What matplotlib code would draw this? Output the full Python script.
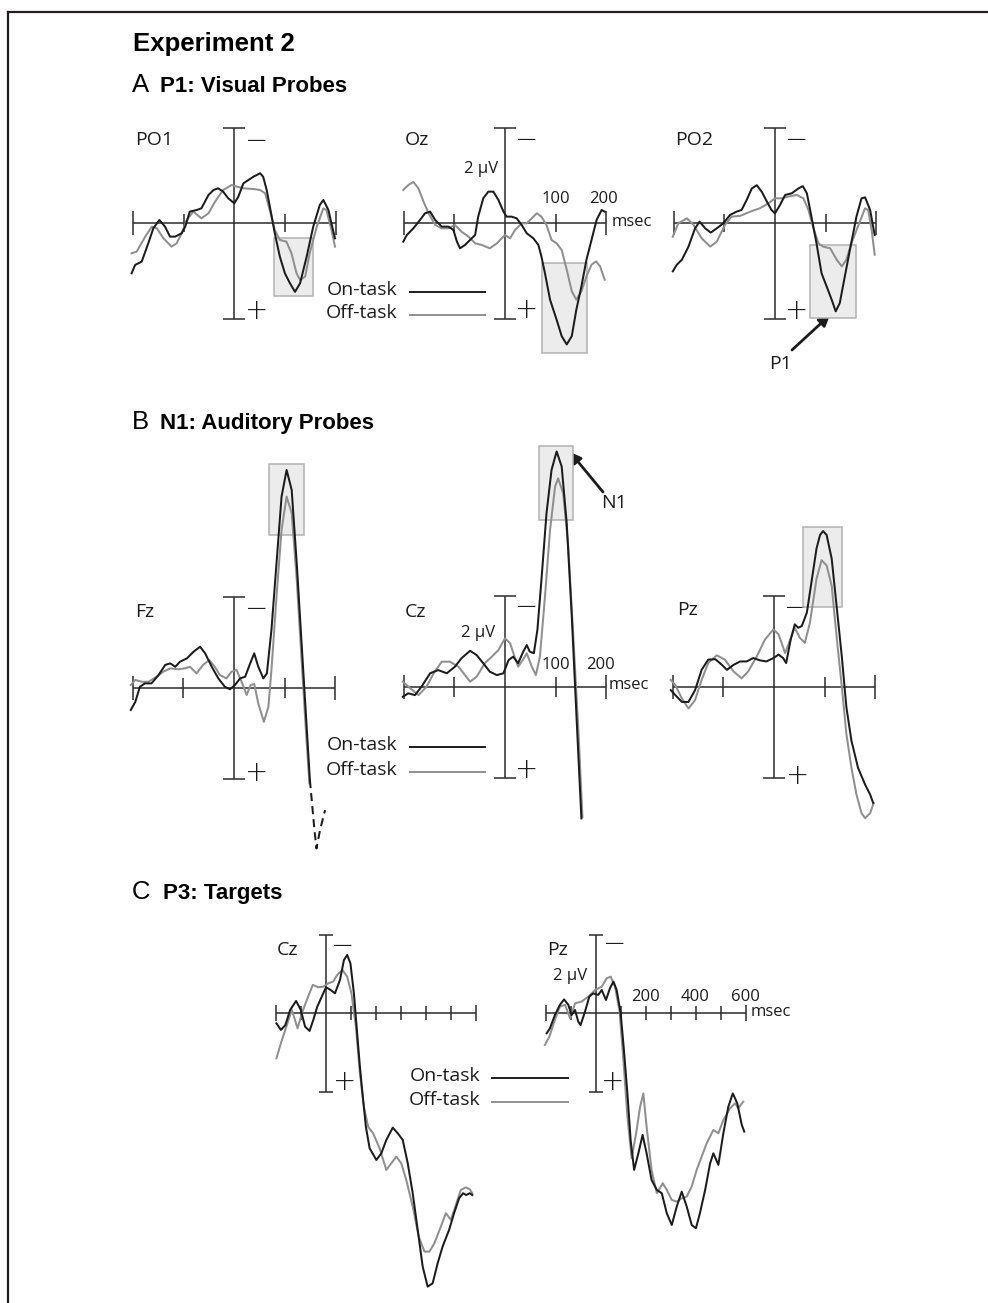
import matplotlib.pyplot as plt
import numpy as np
from matplotlib.patches import Rectangle

W, H = 988, 1303
INK = "#1c1c1c"
GREY = "#8f8f8f"
AXC = "#2b2b2b"

# ERP traces: (ms, microvolts), negative plotted upward
A_PO1_ON = [(-203, 2.10), (-196, 1.75), (-183, 1.61), (-170, 0.84), (-160, 0.21), (-148, -0.14), (-137, 0.14),
            (-127, 0.56), (-117, 0.56), (-104, 0.42), (-97, 0.14), (-88, -0.49), (-74, -0.56), (-65, -0.63),
            (-51, -1.19), (-41, -1.40), (-32, -1.47), (-22, -1.33), (-12, -1.05), (0, -0.84), (8, -1.12),
            (18, -1.68), (28, -1.82), (38, -1.96), (51, -2.10), (57, -1.96), (64, -1.40), (74, -0.28), (80, 0.42),
            (90, 1.40), (100, 2.10), (110, 2.52), (120, 2.88), (130, 2.52), (143, 1.40), (156, 0.14), (169, -0.77),
            (176, -0.98), (186, -0.56), (195, 0.28), (199, 0.63)]
A_PO1_OFF = [(-203, 1.26), (-193, 1.19), (-176, 0.56), (-163, 0.14), (-153, 0.21), (-140, 0.63), (-124, 0.98),
             (-114, 0.84), (-104, 0.42), (-94, -0.14), (-81, -0.49), (-65, -0.21), (-51, -0.42), (-38, -0.91),
             (-22, -1.40), (-5, -1.61), (5, -1.54), (18, -1.47), (38, -1.44), (51, -1.40), (61, -1.26), (70, -0.56),
             (80, 0.28), (90, 0.70), (103, 0.77), (113, 1.26), (123, 2.10), (130, 2.38), (140, 2.24), (149, 1.26),
             (163, 0.14), (176, -0.63), (182, -0.56), (192, 0.28), (199, 0.98)]
A_OZ_ON = [(-201, 0.77), (-194, 0.49), (-181, 0.21), (-168, -0.14), (-158, -0.42), (-148, -0.49), (-138, -0.14),
           (-125, 0.14), (-112, 0.14), (-102, 0.28), (-95, 0.77), (-89, 1.05), (-79, 0.91), (-69, 0.70), (-59, 0.49),
           (-53, -0.28), (-43, -1.05), (-33, -1.33), (-23, -1.33), (-13, -0.98), (-3, -0.49), (3, -0.28),
           (13, -0.28), (23, -0.21), (33, 0.07), (43, 0.42), (56, 0.63), (66, 0.91), (72, 1.40), (79, 2.10),
           (89, 3.21), (102, 4.05), (112, 4.74), (122, 5.09), (132, 4.74), (141, 3.63), (151, 2.65), (161, 1.53),
           (171, 0.70), (181, -0.14), (191, -0.56), (197, -0.49)]
A_OZ_OFF = [(-201, -1.40), (-191, -1.61), (-181, -1.74), (-171, -1.46), (-161, -0.91), (-151, -0.42), (-138, 0.07),
            (-125, 0.21), (-112, 0.21), (-99, 0.07), (-86, 0.35), (-72, 0.56), (-59, 0.84), (-46, 0.91), (-30, 1.05),
            (-16, 0.84), (0, 0.49), (10, 0.63), (20, 0.28), (33, 0.0), (43, 0.0), (53, -0.21), (63, -0.42),
            (72, -0.28), (82, 0.07), (92, 0.70), (102, 0.84), (112, 1.12), (122, 1.95), (132, 2.86), (141, 3.21),
            (151, 2.86), (161, 2.23), (171, 1.74), (180, 1.60), (188, 1.81), (197, 2.37)]
A_PO2_ON = [(-202, 2.02), (-194, 1.74), (-184, 1.53), (-171, 0.98), (-158, 0.21), (-149, -0.07), (-138, 0.21),
            (-127, 0.39), (-115, 0.21), (-102, 0.0), (-89, -0.35), (-76, -0.49), (-66, -0.56), (-56, -0.98),
            (-46, -1.46), (-36, -1.60), (-26, -1.32), (-16, -0.91), (-7, -0.56), (0, -0.42), (10, -0.77),
            (20, -1.19), (33, -1.26), (46, -1.46), (55, -1.56), (63, -1.26), (72, -0.28), (82, 0.84), (92, 2.10),
            (102, 2.65), (112, 3.21), (120, 3.70), (128, 3.35), (138, 2.23), (148, 1.12), (161, -0.28),
            (171, -1.05), (178, -1.09), (188, -0.56), (197, 0.49)]
A_PO2_OFF = [(-202, 0.56), (-191, 0.0), (-174, -0.21), (-161, 0.07), (-145, 0.63), (-128, 0.98), (-115, 0.77),
             (-99, 0.07), (-86, -0.28), (-69, -0.31), (-49, -0.49), (-30, -0.63), (-13, -0.84), (0, -1.05),
             (13, -1.05), (30, -1.14), (43, -1.19), (56, -1.05), (66, -0.56), (76, 0.21), (86, 0.84), (95, 0.98),
             (109, 1.05), (122, 1.53), (132, 1.81), (141, 1.53), (151, 0.84), (165, 0.07), (178, -0.63),
             (184, -0.56), (191, 0.28), (197, 1.32)]

B_FZ_ON = [(-204, 0.98), (-195, 0.62), (-186, -0.04), (-176, -0.19), (-163, -0.19), (-149, -0.56), (-136, -1.00),
           (-126, -1.07), (-116, -0.92), (-107, -1.14), (-93, -1.29), (-80, -1.58), (-67, -1.80), (-57, -1.51),
           (-44, -0.92), (-31, -0.41), (-18, -0.04), (-8, 0.07), (2, -0.12), (12, -0.41), (22, -0.48), (32, -1.07),
           (40, -1.51), (48, -0.92), (58, -0.41), (65, -0.63), (74, -2.54), (84, -5.47), (94, -8.40), (104, -9.57),
           (114, -8.69), (124, -5.47), (134, -1.80), (142, 1.13), (150, 4.06), (153, 4.79), (159, 6.26),
           (163, 7.07), (170, 6.26), (180, 5.38)]
B_FZ_OFF = [(-204, -0.12), (-195, -0.34), (-182, -0.26), (-169, -0.26), (-153, -0.48), (-140, -0.70), (-126, -0.85),
            (-110, -0.81), (-97, -0.85), (-87, -0.92), (-74, -0.63), (-61, -1.00), (-49, -1.22), (-38, -0.92),
            (-28, -0.56), (-15, -0.41), (-5, -0.70), (5, -0.78), (15, -0.26), (25, 0.32), (33, -0.12), (40, -0.16),
            (48, 0.69), (59, 1.50), (68, 0.84), (74, -0.78), (84, -4.00), (94, -6.94), (104, -8.40), (114, -7.67),
            (124, -4.74), (134, -1.07), (142, 1.86), (149, 4.21)]
B_CZ_ON = [(-202, 0.44), (-191, 0.29), (-178, 0.37), (-165, 0.0), (-148, -0.59), (-132, -0.73), (-115, -0.59),
           (-99, -0.88), (-86, -1.25), (-69, -1.58), (-56, -1.39), (-43, -1.03), (-30, -0.66), (-16, -0.51),
           (-3, -0.59), (7, -1.17), (16, -1.32), (26, -1.03), (36, -1.54), (43, -1.83), (49, -1.54), (57, -1.47),
           (64, -2.49), (72, -4.69), (82, -7.62), (92, -9.53), (102, -10.34), (112, -9.68), (122, -7.18),
           (132, -3.08), (141, 1.17), (151, 5.79)]
B_CZ_OFF = [(-202, -0.22), (-191, 0.0), (-171, 0.37), (-155, 0.0), (-141, -0.59), (-125, -1.10), (-109, -1.10),
            (-92, -0.88), (-79, -0.51), (-69, -0.22), (-56, -0.44), (-40, -1.03), (-26, -1.32), (-13, -1.61),
            (0, -2.13), (10, -1.91), (20, -1.25), (26, -0.88), (35, -1.17), (43, -1.47), (53, -0.88), (61, -0.51),
            (69, -1.32), (79, -3.96), (89, -6.89), (99, -8.80), (105, -9.16), (115, -8.50), (125, -6.16),
            (135, -2.20), (145, 1.91), (153, 5.72)]
B_PZ_ON = [(-204, 0.15), (-195, 0.37), (-182, 0.67), (-169, 0.67), (-156, 0.15), (-143, -0.74), (-130, -1.19),
           (-116, -1.21), (-103, -0.96), (-93, -0.74), (-80, -0.96), (-67, -1.11), (-54, -1.11), (-41, -1.26),
           (-28, -1.16), (-15, -1.11), (-1, -1.26), (9, -1.41), (18, -1.26), (24, -1.04), (33, -2.07), (41, -2.74),
           (48, -2.59), (55, -2.67), (65, -3.26), (74, -4.59), (84, -6.07), (91, -6.67), (97, -6.84), (104, -6.67),
           (114, -5.63), (123, -3.70), (134, -1.33), (143, 0.89), (153, 2.37), (166, 3.56), (180, 4.30),
           (190, 4.74), (196, 5.11)]
B_PZ_OFF = [(-204, -0.30), (-195, -0.07), (-182, 0.52), (-169, 0.96), (-156, 0.59), (-143, -0.30), (-130, -1.04),
            (-113, -1.38), (-97, -1.19), (-80, -0.67), (-64, -0.37), (-51, -0.67), (-34, -1.33), (-18, -2.07),
            (-1, -2.52), (9, -2.30), (22, -1.48), (32, -2.07), (41, -2.59), (51, -2.15), (61, -1.93), (71, -2.81),
            (84, -4.74), (94, -5.56), (104, -5.33), (114, -4.44), (123, -2.37), (134, 0.0), (143, 2.07),
            (153, 3.56), (163, 4.74), (173, 5.56), (180, 5.78), (190, 5.56), (197, 5.11)]

C_CZ_ON = [(-199, 0.51), (-181, 0.85), (-163, 0.60), (-144, -0.17), (-120, -0.63), (-101, -0.17), (-84, 0.68),
           (-66, 0.90), (-51, 0.34), (-35, -0.34), (-17, -0.85), (0, -1.33), (19, -1.19), (36, -1.02), (56, -1.70),
           (72, -2.72), (85, -2.98), (98, -2.55), (112, -1.02), (125, 1.02), (136, 2.72), (149, 4.43), (160, 5.79),
           (175, 6.89), (202, 7.49), (222, 7.15), (242, 6.47), (268, 5.84), (288, 6.13), (308, 6.47), (328, 7.66),
           (348, 9.19), (368, 11.06), (388, 12.94), (408, 13.96), (428, 13.79), (448, 12.77), (468, 11.91),
           (494, 11.06), (514, 10.21), (534, 9.45), (550, 9.19), (563, 9.28), (577, 9.19), (587, 9.28)]
C_CZ_OFF = [(-199, 2.30), (-181, 1.53), (-157, 0.60), (-137, -0.17), (-114, 0.77), (-97, 0.0), (-77, -0.68),
            (-53, -1.45), (-31, -1.33), (-11, -1.36), (9, -1.53), (29, -1.62), (45, -1.96), (66, -2.21), (85, -1.87),
            (102, -1.02), (120, 0.68), (136, 3.06), (152, 4.77), (169, 5.79), (189, 6.13), (215, 6.89), (242, 8.00),
            (262, 7.66), (282, 7.32), (302, 7.66), (322, 8.51), (348, 9.87), (372, 11.40), (395, 12.17),
            (415, 12.17), (435, 11.74), (461, 10.89), (481, 10.21), (501, 10.55), (521, 9.79), (541, 9.02),
            (561, 8.89), (577, 8.99), (587, 9.19)]
C_PZ_ON = [(-198, 1.02), (-185, 0.77), (-165, 0.09), (-145, -0.43), (-128, -0.71), (-111, -0.43), (-98, 0.09),
           (-84, -0.17), (-71, 0.43), (-62, 0.60), (-44, -0.09), (-27, -0.85), (-11, -1.02), (9, -0.94), (23, -1.19),
           (40, -0.68), (56, -1.28), (70, -1.62), (83, -1.19), (99, 0.0), (112, 1.87), (126, 4.09), (139, 6.47),
           (153, 8.00), (170, 7.15), (187, 6.21), (203, 7.15), (223, 8.51), (244, 9.02), (264, 9.19), (284, 10.21),
           (304, 10.81), (324, 9.87), (344, 9.11), (364, 9.87), (384, 10.81), (401, 10.98), (417, 10.21),
           (438, 9.02), (458, 7.66), (471, 7.15), (491, 7.74), (511, 6.13), (531, 4.77), (549, 4.09), (567, 4.60),
           (585, 5.70), (595, 6.04)]
C_PZ_OFF = [(-205, 1.62), (-187, 1.19), (-165, 0.34), (-145, -0.34), (-124, -0.43), (-104, 0.26), (-84, -0.51),
            (-58, -0.60), (-31, -0.85), (-4, -1.19), (23, -1.36), (43, -1.79), (59, -1.87), (76, -1.36), (94, -0.17),
            (110, 2.38), (126, 5.28), (143, 7.40), (161, 6.13), (177, 4.77), (190, 4.09), (203, 5.79), (223, 8.00),
            (244, 9.19), (268, 8.68), (284, 9.02), (304, 9.53), (324, 9.62), (344, 9.45), (364, 9.36), (384, 8.85),
            (404, 8.00), (424, 7.32), (444, 6.64), (471, 5.96), (491, 6.13), (511, 5.45), (538, 4.85), (558, 4.60),
            (571, 4.85), (591, 4.51)]

# measurement windows: (t start, t end, uV top, uV bottom)
PO1_BOX = (79, 155, 0.63, 3.04)
OZ_BOX = (74, 163, 1.68, 5.44)
PO2_BOX = (70, 161, 0.91, 3.99)
FZ_BOX = (70, 138, -9.83, -6.71)
CZ_BOX = (67, 135, -10.58, -7.33)
PZ_BOX = (58, 135, -7.03, -3.49)

plt.rcParams["font.family"] = ["Open Sans", "DejaVu Sans"]
fig = plt.figure(figsize=(W / 100, H / 100), dpi=100)
ov = fig.add_axes([0, 0, 1, 1])
ov.set_xlim(0, W)
ov.set_ylim(H, 0)
ov.axis("off")


def panel(ox, oy, ppms, ppuv, t0, t1, v0, v1):
    # axes placed so that (0 ms, 0 uV) sits at pixel (ox, oy)
    left = ox + t0 * ppms
    top = oy + v0 * ppuv
    w = (t1 - t0) * ppms
    h = (v1 - v0) * ppuv
    ax = fig.add_axes([left / W, 1 - (top + h) / H, w / W, h / H])
    ax.set_xlim(t0, t1)
    ax.set_ylim(v1, v0)
    ax.axis("off")
    return ax


def frame(ax, tmax, ppms, ppuv, tick, end, cap):
    kw = dict(color=AXC, lw=1.1, solid_capstyle="butt", clip_on=False, zorder=2)
    ax.plot([-200, tmax], [0, 0], **kw)
    for t in range(-200, tmax + 1, 100):
        if t == 0:
            continue
        d = (end if t in (-200, tmax) else tick) / ppuv
        ax.plot([t, t], [-d, d], **kw)
    ax.plot([0, 0], [-4, 4], **kw)
    c = cap / ppms
    for v in (-4, 4):
        ax.plot([-c, c], [v, v], **kw)


def draw_trace(ax, pts, color, **kw):
    t, v = np.array(pts).T
    ax.plot(t, v, color=color, lw=1.45, clip_on=False, solid_joinstyle="round", **kw)


def traces(ax, on, off, box=None):
    if box:
        ax.add_patch(Rectangle((box[0], box[2]), box[1] - box[0], box[3] - box[2],
                               fc="#ececec", ec="#b2b2b2", lw=1.1, zorder=1))
    draw_trace(ax, off, GREY, zorder=3)
    if on is not None:
        draw_trace(ax, on, INK, zorder=4)


# Panel A
for ox, on, off, box in [(234.3, A_PO1_ON, A_PO1_OFF, PO1_BOX), (505, A_OZ_ON, A_OZ_OFF, OZ_BOX),
                         (775, A_PO2_ON, A_PO2_OFF, PO2_BOX)]:
    ax = panel(ox, 223.3, 0.506, 23.8, -220, 220, -5, 6)
    frame(ax, 200, 0.506, 23.8, 9, 12, 11)
    traces(ax, on, off, box)

# Panel B
for ox, oy, on, off, box in [(234, 687.7, None, B_FZ_OFF, FZ_BOX), (505, 686.7, B_CZ_ON, B_CZ_OFF, CZ_BOX),
                             (774, 686.7, B_PZ_ON, B_PZ_OFF, PZ_BOX)]:
    ax = panel(ox, oy, 0.506, 22.75, -220, 220, -11.5, 8)
    frame(ax, 200, 0.506, 22.75, 10, 12, 11)
    traces(ax, on, off, box)
    if on is None:
        # Fz on-task: solid inside the frame, dashed where it runs past the scale
        v = np.array(B_FZ_ON)[:, 1]
        k = int(np.argmax(v >= 4.0))
        draw_trace(ax, B_FZ_ON[:k + 1], INK, zorder=4)
        t, vv = np.array(B_FZ_ON[k:]).T
        ax.plot(t, vv, color=INK, lw=1.45, clip_on=False, ls=(0, (4, 2.5)), zorder=4)

# Panel C
for ox, on, off in [(326, C_CZ_ON, C_CZ_OFF), (596, C_PZ_ON, C_PZ_OFF)]:
    ax = panel(ox, 1013.3, 0.2492, 19.58, -220, 620, -5, 15)
    frame(ax, 600, 0.2492, 19.58, 7, 8, 7)
    traces(ax, on, off)

# border
bk = dict(color="#231f20", lw=1.6, solid_capstyle="projecting")
ov.plot([8, W], [12, 12], **bk)
ov.plot([8, 8], [12, H], **bk)

# titles
TF = "Liberation Sans"
ov.text(133, 44, "Experiment 2", family=TF, weight="bold", fontsize=18.5, va="center")
for y, letter, title, x2 in [(85, "A", "P1: Visual Probes", 160), (422, "B", "N1: Auditory Probes", 160),
                             (892, "C", "P3: Targets", 163)]:
    ov.text(132, y, letter, family=TF, fontsize=18.5, va="center")
    ov.text(x2, y + 1, title, family=TF, weight="bold", fontsize=16, va="center")

LAB = 14
NUM = 12
SIG = 20
txt = dict(va="center", color=INK)
sig = dict(va="center", ha="center", color=INK, fontsize=SIG, family=["DejaVu Sans"], weight="light")

# electrode names
for x, y, s in [(135, 140, "PO1"), (405, 140, "Oz"), (675, 140, "PO2"), (135, 612, "Fz"), (405, 612, "Cz"),
                (677, 610, "Pz"), (277, 950, "Cz"), (547, 950, "Pz")]:
    ov.text(x, y, s, fontsize=LAB, ha="left", **txt)

# polarity signs
for x, y in [(257, 141), (527, 140), (797, 140), (257, 609), (527, 607), (796, 608), (343, 946), (615, 944)]:
    ov.text(x, y, "\u2212", **sig)
for x, y in [(257, 311), (527, 310), (797, 311), (257, 773), (527, 770), (798, 776), (345, 1082), (613, 1082)]:
    ov.text(x, y, "+", **sig)

# scale labels
for x, y in [(498, 169), (495, 633), (587, 976)]:
    ov.text(x, y, "2 \u03bcV", fontsize=NUM, ha="right", **txt)
for x, y, s in [(556, 199, "100"), (603, 199, "200"), (556, 665, "100"), (600, 665, "200"),
                (645, 997, "200"), (695, 997, "400"), (745, 997, "600")]:
    ov.text(x, y, s, fontsize=NUM, ha="center", **txt)
for x, y in [(612, 222), (609, 685), (751, 1012)]:
    ov.text(x, y, "msec", fontsize=NUM, ha="left", **txt)

# legends
for xr, x0, x1, y_on, y_off in [(397, 410, 485, 291.7, 315), (397, 410, 485, 746.7, 771.7),
                                (480, 492, 568, 1078.3, 1102.3)]:
    ov.text(xr, y_on - 2, "On-task", fontsize=LAB, ha="right", **txt)
    ov.text(xr, y_off - 2, "Off-task", fontsize=LAB, ha="right", **txt)
    ov.plot([x0, x1], [y_on, y_on], color=INK, lw=1.4)
    ov.plot([x0, x1], [y_off, y_off], color=GREY, lw=1.4)

# component arrows
arw = dict(arrowstyle="-|>", lw=2, color=INK, mutation_scale=16, shrinkA=0, shrinkB=0)
ov.annotate("", xy=(830, 315), xytext=(792, 350), arrowprops=arw)
ov.text(780, 364, "P1", fontsize=LAB, ha="center", **txt)
ov.annotate("", xy=(570, 452), xytext=(603, 492), arrowprops=arw)
ov.text(614, 503, "N1", fontsize=LAB, ha="center", **txt)

fig.savefig("out.png", dpi=100)
